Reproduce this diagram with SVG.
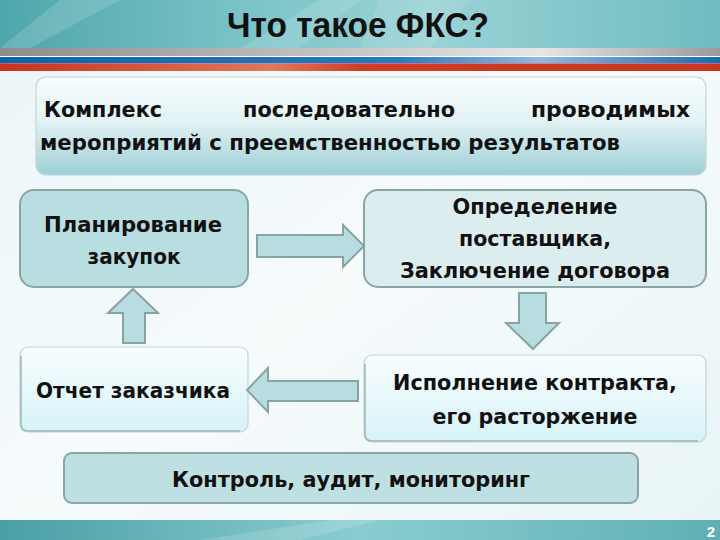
<svg xmlns="http://www.w3.org/2000/svg" width="720" height="540" viewBox="0 0 720 540">
<defs>
<linearGradient id="bg" x1="0" y1="0" x2="1" y2="1">
<stop offset="0" stop-color="#eaf5f8"/><stop offset="0.5" stop-color="#f6fbfc"/><stop offset="1" stop-color="#e8f4f6"/>
</linearGradient>
<linearGradient id="hdr" x1="0" y1="0" x2="1" y2="0">
<stop offset="0" stop-color="#4ea6ab"/><stop offset="0.35" stop-color="#7cc4c8"/><stop offset="0.6" stop-color="#9ad3d6"/><stop offset="1" stop-color="#6fbcc0"/>
</linearGradient>
<linearGradient id="ftr" x1="0" y1="0" x2="1" y2="0">
<stop offset="0" stop-color="#4a9fa5"/><stop offset="0.5" stop-color="#8acdd1"/><stop offset="1" stop-color="#5eb0b5"/>
</linearGradient>
<linearGradient id="gray" x1="0" y1="0" x2="1" y2="0">
<stop offset="0" stop-color="#8d8d8d"/><stop offset="0.3" stop-color="#b0b0b0"/><stop offset="0.75" stop-color="#e6e6e6"/><stop offset="1" stop-color="#9a9a9a"/>
</linearGradient>
<linearGradient id="blue" x1="0" y1="0" x2="1" y2="0">
<stop offset="0" stop-color="#1360ad"/><stop offset="0.55" stop-color="#2a78c0"/><stop offset="0.75" stop-color="#8fb8e0"/><stop offset="1" stop-color="#1a68b3"/>
</linearGradient>
<linearGradient id="red" x1="0" y1="0" x2="1" y2="0">
<stop offset="0" stop-color="#c8321f"/><stop offset="0.38" stop-color="#e2775a"/><stop offset="0.5" stop-color="#cf3d25"/><stop offset="1" stop-color="#c93620"/>
</linearGradient>
<linearGradient id="topbox" x1="0" y1="0" x2="0" y2="1">
<stop offset="0" stop-color="#f8fcfd"/><stop offset="0.45" stop-color="#e3f2f4"/><stop offset="1" stop-color="#9ccfd6"/>
</linearGradient>
<linearGradient id="light" x1="0" y1="0" x2="0" y2="1">
<stop offset="0" stop-color="#f9fdfe"/><stop offset="1" stop-color="#d6f3f8"/>
</linearGradient>
<style>
.t{font-family:"DejaVu Sans","Liberation Sans",sans-serif;font-weight:bold;font-size:22px;fill:#111}
.c{text-anchor:middle}
.dark{stroke:#8aa5a8;stroke-width:2}
.lt{stroke:#c2d6d9;stroke-width:1.2}
.sh{fill:none;stroke:#9fb4b7;stroke-width:1.5}
.arr{fill:#b8dde1;stroke:#88a3a5;stroke-width:2;stroke-linejoin:miter}
</style>
</defs>
<rect width="720" height="540" fill="url(#bg)"/>
<!-- header -->
<rect x="0" y="0" width="720" height="48" fill="url(#hdr)"/>
<polygon points="0,48 60,0 120,0 30,48" fill="#ffffff" opacity="0.15"/>
<polygon points="240,48 320,0 360,0 300,48" fill="#ffffff" opacity="0.12"/>
<polygon points="380,0 470,0 430,48 360,48" fill="#ffffff" opacity="0.1"/>
<rect x="0" y="48" width="720" height="8" fill="url(#gray)"/>
<rect x="0" y="56" width="720" height="1" fill="#ffffff"/>
<rect x="0" y="57" width="720" height="6.5" fill="url(#blue)"/>
<rect x="0" y="63.5" width="720" height="7.5" fill="url(#red)"/>
<text x="358" y="37" text-anchor="middle" font-family="'Liberation Sans',sans-serif" font-weight="bold" font-size="35" textLength="262" lengthAdjust="spacingAndGlyphs" fill="#111">Что такое ФКС?</text>
<!-- footer -->
<rect x="0" y="520" width="720" height="20" fill="url(#ftr)"/>
<polygon points="200,540 330,520 380,520 300,540" fill="#ffffff" opacity="0.15"/>
<text x="711" y="537" text-anchor="middle" font-family="'Liberation Sans',sans-serif" font-weight="bold" font-size="15" fill="#ffffff">2</text>

<g id="intro">
<rect x="36" y="77" width="670" height="98" rx="10" fill="url(#topbox)" class="lt"/>
<text class="t" x="44" y="117" textLength="118" lengthAdjust="spacingAndGlyphs">Комплекс</text>
<text class="t" x="243" y="117" textLength="212" lengthAdjust="spacingAndGlyphs">последовательно</text>
<text class="t" x="531" y="117" textLength="159" lengthAdjust="spacingAndGlyphs">проводимых</text>
<text class="t" x="40" y="150" textLength="580" lengthAdjust="spacingAndGlyphs">мероприятий с преемственностью результатов</text>
</g>

<g id="node-plan">
<rect x="20" y="190" width="228" height="97" rx="14" fill="#b9dee2" class="dark"/>
<text class="t c" x="133" y="232" textLength="178" lengthAdjust="spacingAndGlyphs">Планирование</text>
<text class="t c" x="134" y="264" textLength="93" lengthAdjust="spacingAndGlyphs">закупок</text>
</g>

<g id="node-supplier">
<rect x="364" y="190" width="342" height="97" rx="14" fill="#dcedef" class="dark"/>
<text class="t c" x="535" y="214" textLength="165" lengthAdjust="spacingAndGlyphs">Определение</text>
<text class="t c" x="535" y="246" textLength="152" lengthAdjust="spacingAndGlyphs">поставщика,</text>
<text class="t c" x="535" y="278" textLength="270" lengthAdjust="spacingAndGlyphs">Заключение договора</text>
</g>

<g id="node-report">
<rect x="20" y="347" width="228" height="85" rx="8" fill="url(#light)" class="lt"/>
<path d="M21,356 V424 Q21,431 28,431 H240" class="sh"/>
<text class="t c" x="133" y="398" textLength="194" lengthAdjust="spacingAndGlyphs">Отчет заказчика</text>
</g>

<g id="node-exec">
<rect x="364" y="355" width="342" height="87" rx="8" fill="url(#light)" class="lt"/>
<path d="M365,364 V434 Q365,441 372,441 H698" class="sh"/>
<text class="t c" x="535" y="390" textLength="284" lengthAdjust="spacingAndGlyphs">Исполнение контракта,</text>
<text class="t c" x="535" y="424" textLength="205" lengthAdjust="spacingAndGlyphs">его расторжение</text>
</g>

<g id="node-control">
<rect x="64" y="453" width="574" height="50" rx="8" fill="#bee0e3" class="dark"/>
<text class="t c" x="351" y="487" textLength="358" lengthAdjust="spacingAndGlyphs">Контроль, аудит, мониторинг</text>
</g>

<g id="connectors">
<polygon class="arr" points="257,235 343,235 343,225 364,246 343,267 343,257 257,257"/>
<polygon class="arr" points="519,293 546,293 546,323 559,323 533,349 506,323 519,323"/>
<polygon class="arr" points="358,381 268,381 268,368 247,390 268,412 268,401 358,401"/>
<polygon class="arr" points="123,343 123,313 108,313 133,289 158,313 145,313 145,343"/>
</g>
</svg>
